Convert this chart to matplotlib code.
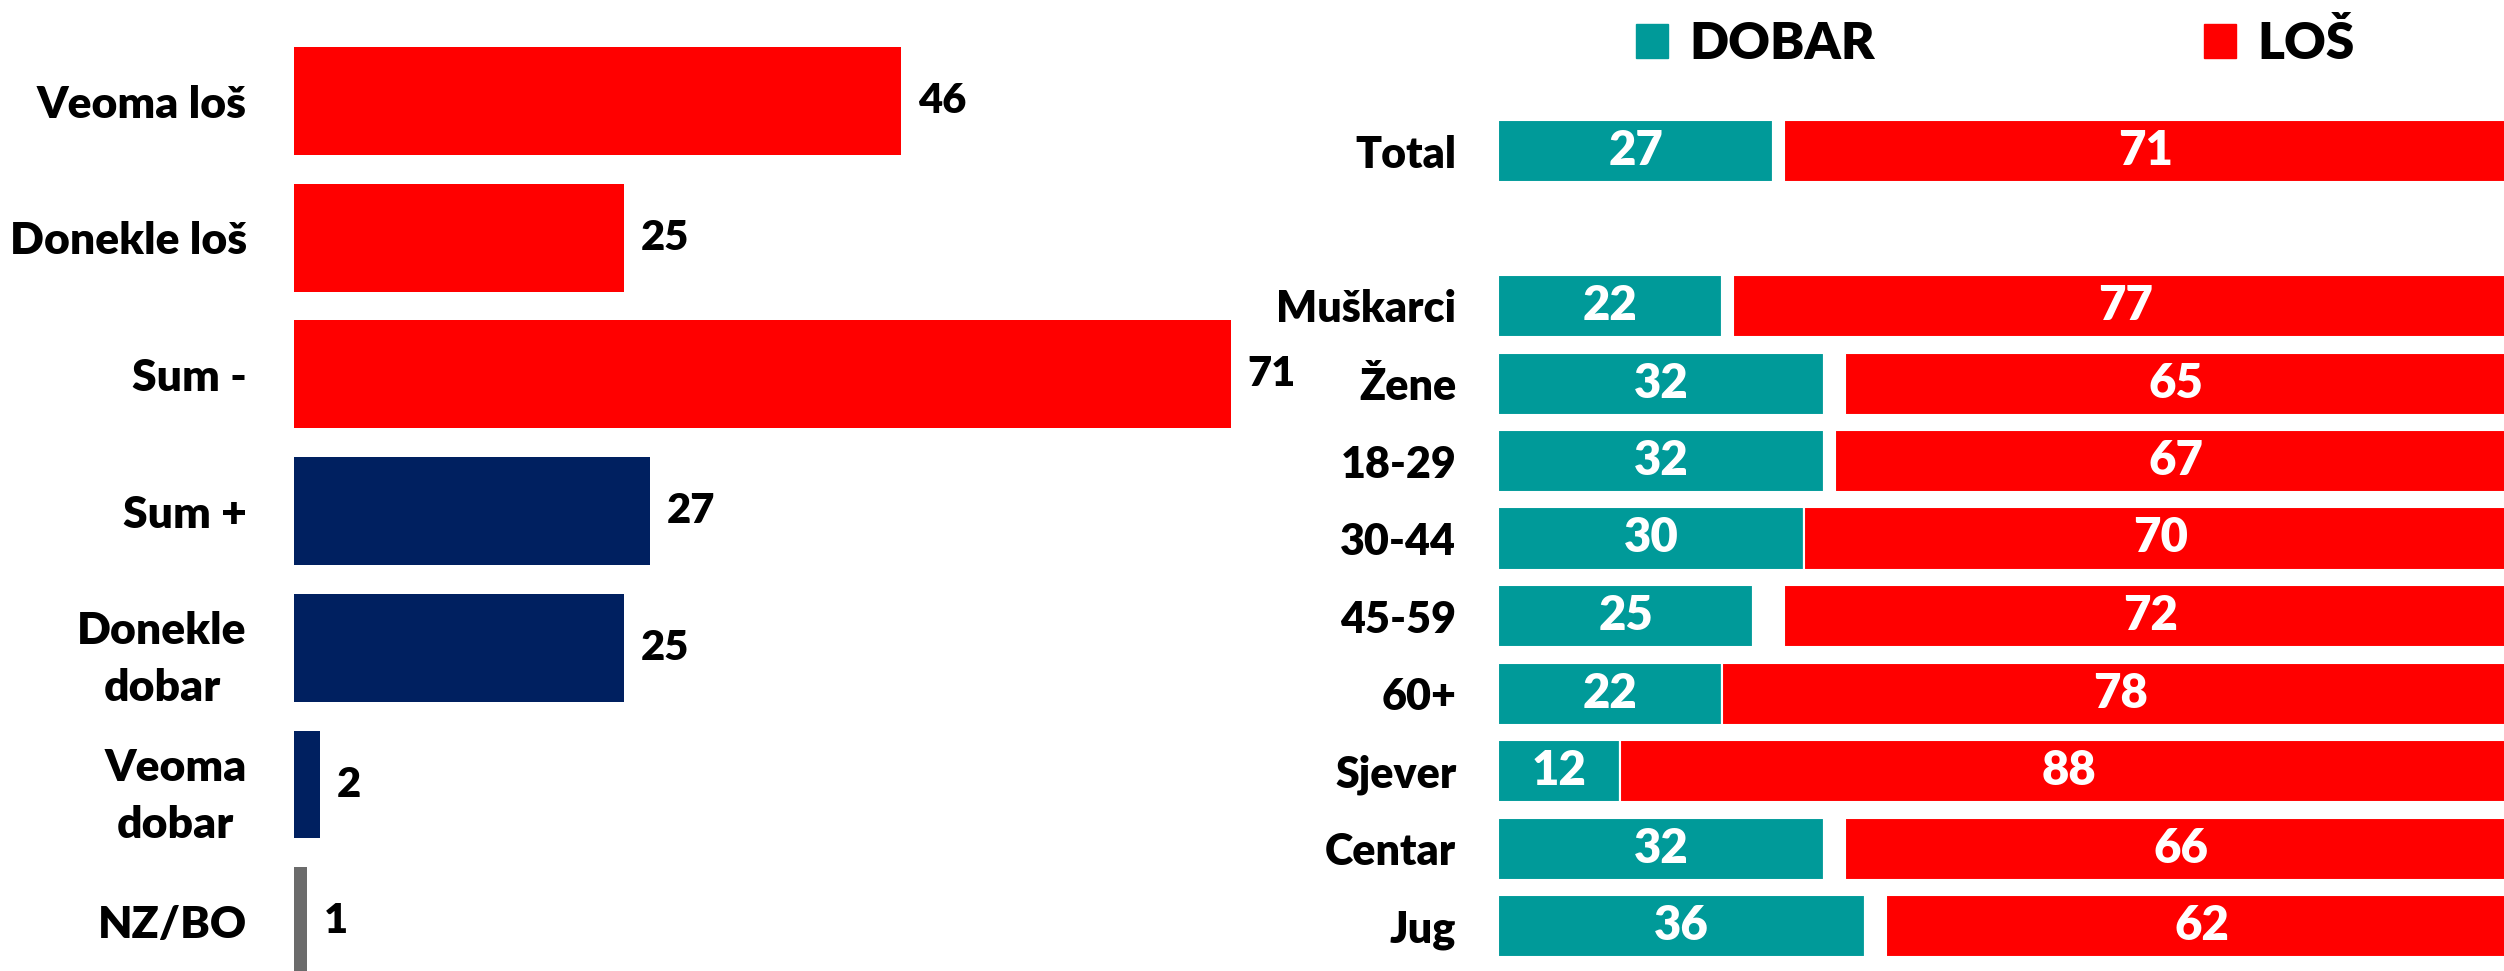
import matplotlib
matplotlib.use('Agg')
import matplotlib.pyplot as plt
from matplotlib.patches import Patch

plt.rcParams['font.family'] = ['Lato', 'DejaVu Sans']
plt.rcParams['font.weight'] = 'bold'

# left chart data
left_labels = ['Veoma loš', 'Donekle loš', 'Sum -', 'Sum +', 'Donekle\ndobar', 'Veoma\ndobar', 'NZ/BO']
left_values = [46, 25, 71, 27, 25, 2, 1]
left_colors = ['#FF0000', '#FF0000', '#FF0000', '#002060', '#002060', '#002060', '#6B6B6B']

# right chart data (blank row between Total and the groups)
groups = ['Total', 'Muškarci', 'Žene', '18-29', '30-44', '45-59', '60+', 'Sjever', 'Centar', 'Jug']
dobar = [27, 22, 32, 32, 30, 25, 22, 12, 32, 36]
nz_bo = [1, 1, 2, 1, 0, 3, 0, 0, 2, 2]
los = [71, 77, 65, 67, 70, 72, 78, 88, 66, 62]

TEAL = '#009A99'
RED = '#FF0000'
WT = 'heavy'

W, H = 2504, 971
fig = plt.figure(figsize=(W / 100, H / 100), dpi=100)

# ---- left panel ----
axl = fig.add_axes([294 / W, 0, 1056 / W, 1])
ypos = list(range(len(left_values)))
axl.barh(ypos, left_values, height=0.79, color=left_colors)
for y, v in zip(ypos, left_values):
    axl.annotate(str(v), (v, y), xytext=(12, 0), textcoords='offset points',
                 ha='left', va='center', fontsize=30, fontweight=WT)
axl.set_xlim(0, 80)
axl.set_ylim((H - 101) / 136.7, -101 / 136.7)
axl.set_yticks(ypos)
axl.set_yticklabels(left_labels, fontsize=32, fontweight=WT, multialignment='center',
                    linespacing=1.5)
axl.tick_params(axis='y', length=0, pad=34)
axl.set_xticks([])
for s in axl.spines.values():
    s.set_visible(False)

# ---- right panel ----
axr = fig.add_axes([1498 / W, 0, (W - 1498) / W, 1])
rpos = [0] + [i + 2 for i in range(len(groups) - 1)]
left_los = [d + n for d, n in zip(dobar, nz_bo)]
axr.barh(rpos, dobar, height=0.8, color=TEAL, edgecolor='white', linewidth=1.5)
axr.barh(rpos, nz_bo, left=dobar, height=0.8, color='white', edgecolor='white', linewidth=1.5)
axr.barh(rpos, los, left=left_los, height=0.8, color=RED, edgecolor='white', linewidth=1.5)
for y, d, n, l in zip(rpos, dobar, nz_bo, los):
    axr.text(d / 2, y, str(d), ha='center', va='center', color='white', fontsize=34, fontweight=WT)
    axr.text(d + n + l / 2, y, str(l), ha='center', va='center', color='white', fontsize=34,
             fontweight=WT)
axr.set_xlim(0, (W - 1498) / 10.2)
axr.set_ylim((H - 151) / 77.5, -151 / 77.5)
axr.set_yticks(rpos)
axr.set_yticklabels(groups, fontsize=31, fontweight=WT)
axr.tick_params(axis='y', length=0, pad=30)
axr.set_xticks([])
for s in axr.spines.values():
    s.set_visible(False)

handles = [Patch(color=TEAL, label='DOBAR'), Patch(color=RED, label='LOŠ')]
fig.legend(handles=handles, loc='upper left', bbox_to_anchor=(1636 / W, 1 - 20 / H), ncol=2,
           frameon=False, prop={'weight': WT, 'size': 37},
           handlelength=0.62, handleheight=0.62, handletextpad=0.42, columnspacing=6.4,
           borderpad=0, borderaxespad=0)

fig.savefig('out.png', dpi=100)
